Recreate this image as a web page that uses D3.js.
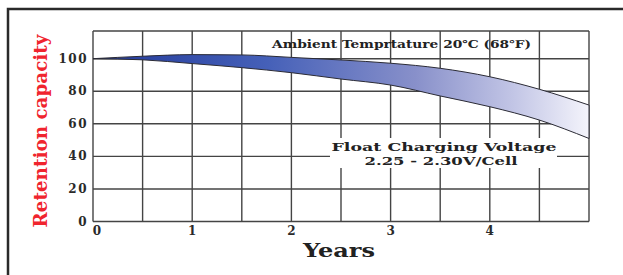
<!DOCTYPE html>
<meta charset="utf-8">
<script src="https://d3js.org/d3.v7.min.js"></script>
<style type="text/css">
    body {
        margin: 0;
        padding: 0;
        background: #fff;
    }

    svg {
        display: block;
        background-color: #FFF;
    }

    .grid line {
        stroke: #444;
        stroke-width: 1.4;
    }

    .tick-label {
        font-family: "DejaVu Serif", serif;
        font-weight: bold;
        font-size: 12px;
        fill: #2a2a2a;
    }

    .note {
        font-family: "DejaVu Serif", serif;
        font-weight: bold;
        font-size: 11px;
        fill: #222;
    }
</style>

<body>
</body>

<script>

// values (years 0..5 in half year steps)
var years = [0, 0.5, 1, 1.5, 2, 2.5, 3, 3.5, 4, 4.5, 5];
var upperCapacity = [100, 101.5, 102.5, 102.3, 100.8, 99.2, 97.2, 94.1, 88.9, 81.2, 71.5];
var lowerCapacity = [100, 99.3, 97, 94.5, 91.4, 87.5, 83.8, 77.1, 70.5, 62.3, 51];

var xTickValues = [0, 1, 2, 3, 4];
var xTickLabels = ["0", "1", "2", "3", "4"];
var yTickValues = [0, 20, 40, 60, 80, 100];
var xGridValues = [0, 0.5, 1, 1.5, 2, 2.5, 3, 3.5, 4, 4.5, 5];
var yGridValues = [0, 20, 40, 60, 80, 100, 117];

var width = 623;
var height = 275;

var x = d3.scaleLinear().domain([0, 5]).range([93, 589]);
var y = d3.scaleLinear().domain([0, 117]).range([221.5, 31]);

var svg = d3.select("body")
    .append("svg")
    .attr("width", width)
    .attr("height", height);

// outer frame (runs off the right and bottom edge)
svg.append("rect")
    .attr("x", 8)
    .attr("y", 9)
    .attr("width", 700)
    .attr("height", 400)
    .attr("fill", "none")
    .attr("stroke", "#2a2a2a")
    .attr("stroke-width", 2.5);

var defs = svg.append("defs");
var grad = defs.append("linearGradient")
    .attr("id", "band")
    .attr("gradientUnits", "userSpaceOnUse")
    .attr("x1", x(0)).attr("x2", x(5))
    .attr("y1", 0).attr("y2", 0);
grad.append("stop").attr("offset", "0%").attr("stop-color", "#22399a");
grad.append("stop").attr("offset", "35%").attr("stop-color", "#4560b8");
grad.append("stop").attr("offset", "65%").attr("stop-color", "#8890ca");
grad.append("stop").attr("offset", "85%").attr("stop-color", "#c3c6e6");
grad.append("stop").attr("offset", "100%").attr("stop-color", "#f4f4fb");

// grid
var grid = svg.append("g").attr("class", "grid");

grid.selectAll("line.vx")
    .data(xGridValues)
    .enter().append("line")
    .attr("class", "vx")
    .attr("x1", function (d) { return x(d); })
    .attr("x2", function (d) { return x(d); })
    .attr("y1", y(117))
    .attr("y2", y(0));

grid.selectAll("line.hy")
    .data(yGridValues)
    .enter().append("line")
    .attr("class", "hy")
    .attr("x1", x(0))
    .attr("x2", x(5))
    .attr("y1", function (d) { return y(d); })
    .attr("y2", function (d) { return y(d); });

// band
var band = d3.area()
    .x(function (d, i) { return x(years[i]); })
    .y0(function (d, i) { return y(lowerCapacity[i]); })
    .y1(function (d, i) { return y(upperCapacity[i]); })
    .curve(d3.curveMonotoneX);

svg.append("path")
    .attr("d", band(years))
    .attr("fill", "url(#band)")
    .attr("stroke", "#2b2b35")
    .attr("stroke-width", 1);

// white box behind the voltage note
svg.append("rect")
    .attr("x", 330)
    .attr("y", 138)
    .attr("width", 227)
    .attr("height", 30)
    .attr("fill", "#fff");

// tick labels
svg.selectAll(".ylab")
    .data(yTickValues)
    .enter().append("text")
    .attr("class", "tick-label")
    .attr("x", 88)
    .attr("y", function (d) { return y(d) + 4; })
    .attr("text-anchor", "end")
    .style("letter-spacing", "1.5px")
    .text(function (d) { return d; });

svg.selectAll(".xlab")
    .data(xTickValues)
    .enter().append("text")
    .attr("class", "tick-label")
    .attr("x", function (d) { return x(d) + (d === 0 ? 4 : 0); })
    .attr("y", 235)
    .attr("text-anchor", "middle")
    .text(function (d, i) { return xTickLabels[i]; });

// axis titles
svg.append("text")
    .attr("transform", "translate(47,131) rotate(-90)")
    .attr("text-anchor", "middle")
    .attr("textLength", 193)
    .attr("lengthAdjust", "spacingAndGlyphs")
    .style("font-family", "DejaVu Serif, serif")
    .style("font-size", "18px")
    .style("font-weight", "bold")
    .style("fill", "#f0242e")
    .text("Retention capacity");

svg.append("text")
    .attr("x", 339)
    .attr("y", 257)
    .attr("text-anchor", "middle")
    .attr("textLength", 72)
    .attr("lengthAdjust", "spacingAndGlyphs")
    .style("font-family", "DejaVu Serif, serif")
    .style("font-size", "18px")
    .style("font-weight", "bold")
    .style("fill", "#222")
    .text("Years");

// notes
svg.append("text")
    .attr("class", "note")
    .attr("x", 272)
    .attr("y", 48)
    .attr("textLength", 259)
    .attr("lengthAdjust", "spacingAndGlyphs")
    .text("Ambient Temprtature 20\u2103 (68\u2109)");

svg.append("text")
    .attr("class", "note")
    .attr("x", 444)
    .attr("y", 151)
    .attr("text-anchor", "middle")
    .attr("textLength", 225)
    .attr("lengthAdjust", "spacingAndGlyphs")
    .text("Float Charging Voltage");

svg.append("text")
    .attr("class", "note")
    .attr("x", 441)
    .attr("y", 165)
    .attr("text-anchor", "middle")
    .attr("textLength", 153)
    .attr("lengthAdjust", "spacingAndGlyphs")
    .text("2.25 - 2.30V/Cell");

</script>
